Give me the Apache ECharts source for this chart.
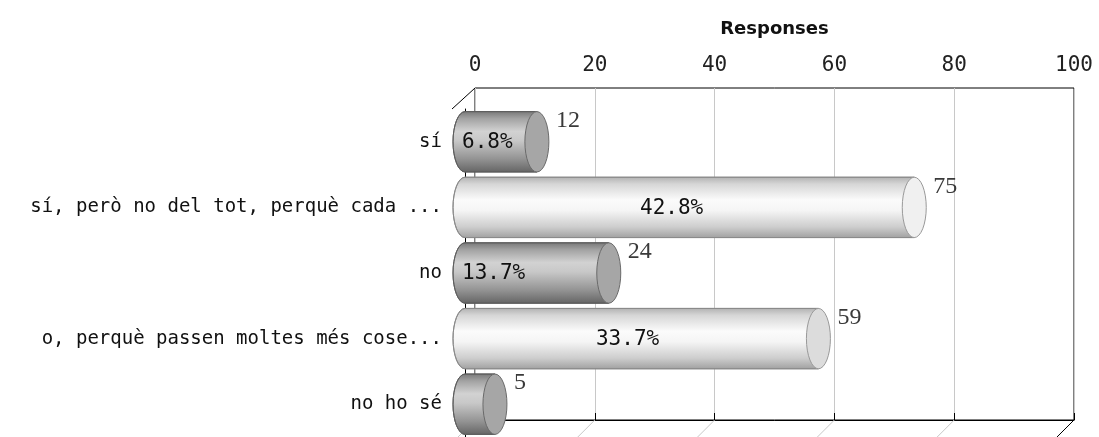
<!DOCTYPE html>
<html>
<head>
<meta charset="utf-8">
<script src="https://cdn.jsdelivr.net/npm/echarts@6/dist/echarts.min.js"></script>
<style>
html,body{margin:0;padding:0;background:#fff;}
#chart{width:1099px;height:437px;}
</style>
</head>
<body>
<div id="chart"></div>
<script>
// ---- data ----
const categories = ['sí', 'sí, però no del tot, perquè cada ...', 'no', 'o, perquè passen moltes més cose...', 'no ho sé'];
const responses = [12, 75, 24, 59, 5];
const percentLabels = ['6.8%', '42.8%', '13.7%', '33.7%', '2.8%'];
const axisTitle = 'Responses';
const axisMin = 0;
const axisMax = 100;
const axisInterval = 20;

// ---- chart ----
const chart = echarts.init(document.getElementById('chart'), null, {renderer: 'canvas'});
const MONO = '"DejaVu Sans Mono", monospace';

function grad(stops) {
  return new echarts.graphic.LinearGradient(0, 0, 0, 1, stops.map(s => ({offset: s[0], color: s[1]})));
}
const darkBody = [[0,'#777777'],[0.12,'#a2a2a2'],[0.33,'#d2d2d2'],[0.48,'#c8c8c8'],[0.78,'#939393'],[1,'#646464']];
const lightBody = [[0,'#b0b0b0'],[0.12,'#d6d6d6'],[0.38,'#fbfbfb'],[0.55,'#f5f5f5'],[0.82,'#cdcdcd'],[1,'#a0a0a0']];

function renderItem(params, api) {
  const idx = params.dataIndex;
  const v = api.value(0);
  const c = api.value(1);
  const p0 = api.coord([0, c]);
  const p1 = api.coord([v, c]);
  const band = api.size([0, 1])[1];
  const ry = band * 0.46;
  const rx = 12;
  const x0 = p0[0], x1 = p1[0], y = p0[1];
  const dark = idx % 2 === 0;
  const body = 'M ' + x1 + ' ' + (y - ry) + ' L ' + x0 + ' ' + (y - ry) +
    ' A ' + rx + ' ' + ry + ' 0 0 0 ' + x0 + ' ' + (y + ry) +
    ' L ' + x1 + ' ' + (y + ry) + ' Z';
  const cap = 'M ' + (x1 - rx) + ' ' + y + ' A ' + rx + ' ' + ry + ' 0 1 0 ' + (x1 + rx) + ' ' + y +
    ' A ' + rx + ' ' + ry + ' 0 1 0 ' + (x1 - rx) + ' ' + y + ' Z';
  const children = [
    {type: 'path', shape: {pathData: body}, style: {fill: grad(dark ? darkBody : lightBody), stroke: dark ? '#5e5e5e' : '#8a8a8a', lineWidth: 1}},
    {type: 'path', shape: {pathData: cap}, style: {fill: dark ? '#a6a6a6' : (v > 70 ? '#f0f0f0' : '#dcdcdc'), stroke: dark ? '#6a6a6a' : '#999', lineWidth: 1}}
  ];
  const len = x1 - x0;
  if (len > 60) {
    const big = len > 250;
    children.push({type: 'text', style: {
      text: percentLabels[idx], x: big ? x0 + len * 0.46 : x0 - 3, y: y + 1,
      align: big ? 'center' : 'left', verticalAlign: 'middle',
      font: '21px ' + MONO, fill: '#111'
    }});
  }
  children.push({type: 'text', style: {
    text: String(v), x: x1 + rx + 7, y: y - ry - 3,
    align: 'left', verticalAlign: 'top',
    font: '24px "Liberation Serif", serif', fill: '#3a3a3a'
  }});
  return {type: 'group', children: children};
}

const option = {
  animation: false,
  backgroundColor: '#fff',
  grid: [
    {left: 475, top: 88, width: 599, height: 332, show: true, borderColor: '#000', borderWidth: 1, backgroundColor: 'transparent'},
    {left: 465, top: 109, width: 599, height: 332, show: false}
  ],
  xAxis: [
    {
      gridIndex: 0, type: 'value', position: 'top', min: axisMin, max: axisMax, interval: axisInterval,
      name: axisTitle, nameLocation: 'middle', nameGap: 50, nameMoveOverlap: false,
      nameTextStyle: {fontFamily: 'DejaVu Sans', fontWeight: 'bold', fontSize: 18, color: '#111'},
      axisLine: {show: true, lineStyle: {color: '#000', width: 1}},
      axisTick: {show: true, length: 7, lineStyle: {color: '#000'}},
      axisLabel: {fontFamily: 'DejaVu Sans Mono', fontSize: 21, color: '#222', margin: 12},
      splitLine: {show: true, lineStyle: {color: '#c8c8c8', width: 1}}
    },
    {gridIndex: 1, type: 'value', min: axisMin, max: axisMax, show: false}
  ],
  yAxis: [
    {gridIndex: 0, type: 'value', min: 0, max: 1, show: false},
    {
      gridIndex: 1, type: 'category', data: categories, inverse: true, position: 'left', offset: 13,
      axisLine: {show: true, lineStyle: {color: '#000', width: 1}},
      axisTick: {show: true, alignWithLabel: true, length: 8, lineStyle: {color: '#000'}},
      axisLabel: {fontFamily: 'DejaVu Sans Mono', fontSize: 19, color: '#111', margin: 10},
      splitLine: {show: false}
    }
  ],
  series: [{
    type: 'custom', xAxisIndex: 1, yAxisIndex: 1, z: 3,
    renderItem: renderItem,
    encode: {x: 0, y: 1},
    data: responses.map((v, i) => [v, i])
  }]
};
chart.setOption(option);

// 3D depth edges, positioned from the back-wall grid's own scale
const depthX = -21, depthY = 21;
const graphics = [];
const tl = chart.convertToPixel({gridIndex: 0}, [axisMin, 1]);
graphics.push({type: 'line', z: 1, shape: {x1: tl[0], y1: tl[1], x2: tl[0] - 23, y2: tl[1] + depthY}, style: {stroke: '#000', lineWidth: 1}});
for (let t = axisMin; t <= axisMax; t += axisInterval) {
  const b = chart.convertToPixel({gridIndex: 0}, [t, 0]);
  graphics.push({type: 'line', z: 1, shape: {x1: b[0], y1: b[1], x2: b[0] + depthX, y2: b[1] + depthY},
    style: {stroke: t === axisMax ? '#000' : '#c8c8c8', lineWidth: 1}});
}
chart.setOption({graphic: graphics});
</script>
</body>
</html>
